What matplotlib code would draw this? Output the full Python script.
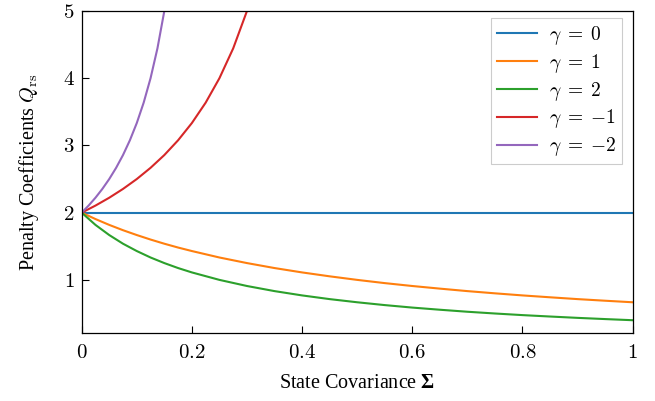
import numpy as np
import matplotlib
matplotlib.use('Agg')
import matplotlib.pyplot as plt
from matplotlib.ticker import FuncFormatter

# Values
sigma_pos = [0, 0.025, 0.05, 0.075, 0.1, 0.125, 0.15, 0.175, 0.2, 0.25, 0.3, 0.35, 0.4,
             0.45, 0.5, 0.55, 0.6, 0.65, 0.7, 0.75, 0.8, 0.85, 0.9, 0.95, 1.0]
q_gamma0 = [2.0] * len(sigma_pos)
q_gamma1 = [2.0, 1.905, 1.818, 1.739, 1.667, 1.6, 1.538, 1.481, 1.429, 1.333, 1.25, 1.176, 1.111,
            1.053, 1.0, 0.952, 0.909, 0.870, 0.833, 0.8, 0.769, 0.741, 0.714, 0.690, 0.667]
q_gamma2 = [2.0, 1.818, 1.667, 1.538, 1.429, 1.333, 1.25, 1.176, 1.111, 1.0, 0.909, 0.833, 0.769,
            0.714, 0.667, 0.625, 0.588, 0.556, 0.526, 0.5, 0.476, 0.455, 0.435, 0.417, 0.4]

sigma_m1 = [0, 0.025, 0.05, 0.075, 0.1, 0.125, 0.15, 0.175, 0.2, 0.225, 0.25, 0.275, 0.3]
q_gamma_m1 = [2.0, 2.105, 2.222, 2.353, 2.5, 2.667, 2.857, 3.077, 3.333, 3.636, 4.0, 4.444, 5.0]

sigma_m2 = [0, 0.0125, 0.025, 0.0375, 0.05, 0.0625, 0.075, 0.0875, 0.1, 0.1125, 0.125, 0.1375, 0.15]
q_gamma_m2 = [2.0, 2.105, 2.222, 2.353, 2.5, 2.667, 2.857, 3.077, 3.333, 3.636, 4.0, 4.444, 5.0]

x_ticks = [0, 0.2, 0.4, 0.6, 0.8, 1]
y_ticks = [1, 2, 3, 4, 5]

plt.rcParams['font.family'] = ['Liberation Serif', 'DejaVu Serif']
plt.rcParams['mathtext.fontset'] = 'cm'
# bold Greek for the x label comes from the custom math set
plt.rcParams['mathtext.bf'] = 'Liberation Serif:bold'
plt.rcParams['mathtext.rm'] = 'Liberation Serif'

fig = plt.figure(figsize=(6.55, 4.01), dpi=100)
ax = fig.add_axes([0.1247, 0.1696, 0.8412, 0.8030])

ax.plot(sigma_pos, q_gamma0, color='#1f77b4', lw=1.5, label=r'$\gamma\;=\;0$')
ax.plot(sigma_pos, q_gamma1, color='#ff7f0e', lw=1.5, label=r'$\gamma\;=\;1$')
ax.plot(sigma_pos, q_gamma2, color='#2ca02c', lw=1.5, label=r'$\gamma\;=\;2$')
ax.plot(sigma_m1, q_gamma_m1, color='#d62728', lw=1.5, label=r'$\gamma\;=\;{-}1$')
ax.plot(sigma_m2, q_gamma_m2, color='#9467bd', lw=1.5, label=r'$\gamma\;=\;{-}2$')

ax.set_xlim(0, 1)
ax.set_ylim(0.21, 5)
ax.set_xticks(x_ticks)
ax.set_yticks(y_ticks)
ax.xaxis.set_major_formatter(FuncFormatter(lambda v, p: f'${v:g}$'))
ax.yaxis.set_major_formatter(FuncFormatter(lambda v, p: f'${v:g}$'))
ax.tick_params(direction='in', length=5, width=0.8, labelsize=15)
ax.tick_params(axis='x', pad=8)
ax.tick_params(axis='y', pad=5)

for s in ax.spines.values():
    s.set_linewidth(0.9)

ax.set_xlabel(r'State Covariance $\mathbf{\Sigma}$', fontsize=14.5, labelpad=8,
              math_fontfamily='custom')
ax.set_ylabel(r'Penalty Coefficients $Q_{\mathrm{rs}}$', fontsize=14.5, labelpad=16)

leg = ax.legend(loc='upper right', bbox_to_anchor=(0.981, 0.978), fontsize=14,
                fancybox=False, framealpha=1, edgecolor='#cccccc',
                handlelength=2.1, handletextpad=0.6, borderpad=0.3,
                labelspacing=0.25, borderaxespad=0)
leg.get_frame().set_linewidth(0.8)

fig.savefig('out.png', dpi=100)
